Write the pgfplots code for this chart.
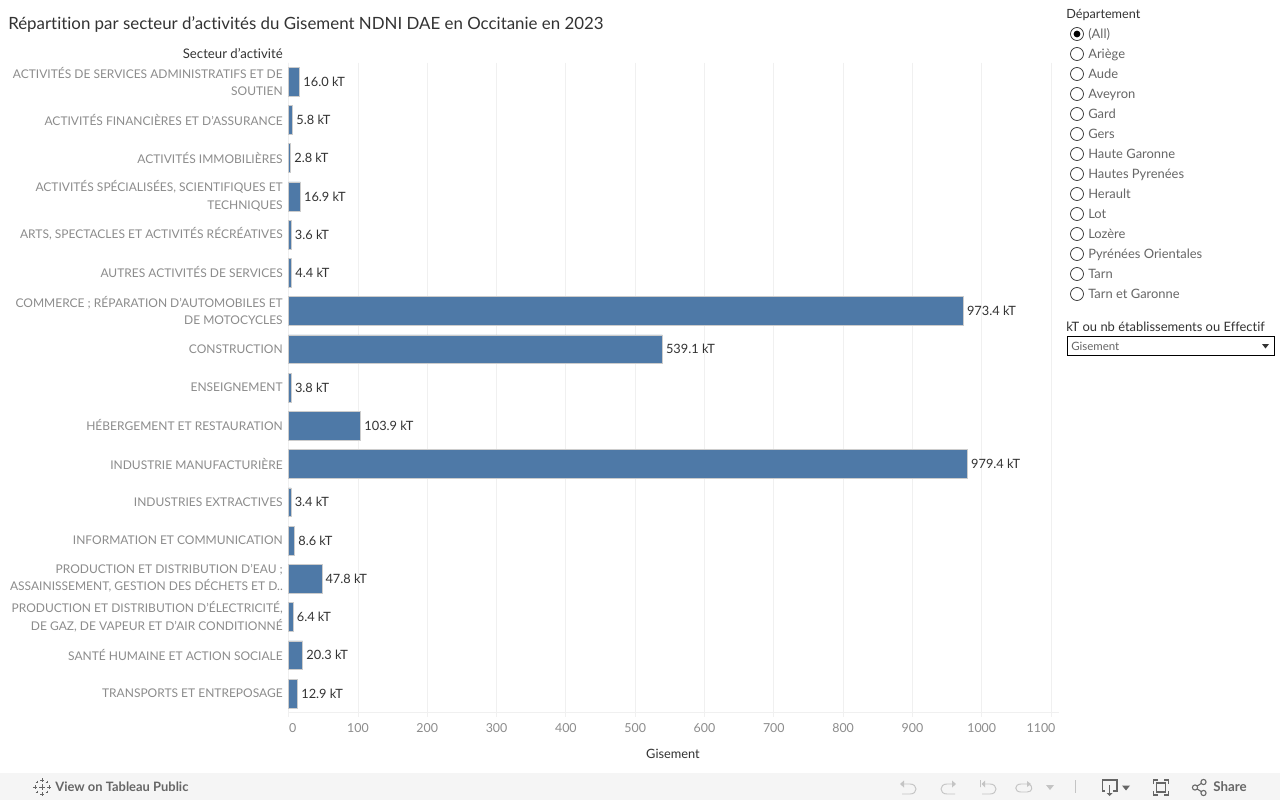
\documentclass[border=0pt]{standalone}
\usepackage{fontspec}
\setmainfont{Lato}[Ligatures=CommonOff]
\usepackage{pgfplots}
\usepackage{pgfplotstable}
\pgfplotsset{compat=1.18}

\definecolor{barblue}{HTML}{4E79A7}
\definecolor{gridgrey}{HTML}{F0F0F0}
\definecolor{catgrey}{HTML}{8C8C8C}
\definecolor{ink}{HTML}{333333}
\definecolor{uigrey}{HTML}{666666}
\definecolor{uilight}{HTML}{C4C4C4}

\pgfplotstableread{
rang valeur
0 16.0
1 5.8
2 2.8
3 16.9
4 3.6
5 4.4
6 973.4
7 539.1
8 3.8
9 103.9
10 979.4
11 3.4
12 8.6
13 47.8
14 6.4
15 20.3
16 12.9
}\gisement

\newcommand{\sz}[1]{\fontsize{#1}{#1}\selectfont}

\begin{document}
\begin{tikzpicture}
% 1 unit = 1 px of the reference, y going down
\begin{scope}[x=0.75pt,y=-0.75pt]
\path[use as bounding box] (0,0) rectangle (1280,800);
\fill[white] (0,0) rectangle (1280,800);

\node[anchor=base west,inner sep=0,text=ink,font=\sz{12.66}] at (8,29) {Répartition par secteur d’activités du Gisement NDNI DAE en Occitanie en 2023};
\node[anchor=base east,inner sep=0,text=ink,font=\sz{9.9}] at (283,58) {Secteur d’activité};
\node[anchor=base,inner sep=0,text=ink,font=\sz{9.6}] at (673,758) {Gisement};

% filtre departement
\node[anchor=base west,inner sep=0,text=ink,font=\sz{9.5}] at (1066,18) {Département};
\foreach \n [count=\i from 0] in {(All),Ariège,Aude,Aveyron,Gard,Gers,Haute Garonne,Hautes Pyrenées,Herault,Lot,Lozère,Pyrénées Orientales,Tarn,Tarn et Garonne}{
  \draw[ink,line width=0.55pt] (1077,34+20*\i) circle[radius=6.5];
  \node[anchor=base west,inner sep=0,text=uigrey,font=\sz{9.7}] at (1088,38+20*\i) {\n};
}
\fill[black] (1077,34) circle[radius=3.4];

% parametre
\node[anchor=base west,inner sep=0,text=ink,font=\sz{9.7}] at (1066,331) {kT ou nb établissements ou Effectif};
\draw[black,line width=0.6pt] (1067.5,336.5) rectangle (1274.5,355.5);
\node[anchor=base west,inner sep=0,text=uigrey,font=\sz{8.6}] at (1071,350) {Gisement};
\fill[black!80] (1262,344) -- (1269,344) -- (1265.5,348.5) -- cycle;

% barre du bas
\fill[black!4] (0,773) rectangle (1280,800);
\node[anchor=base west,inner sep=0,text=uigrey,font=\sz{9.7}\bfseries] at (55,791) {View on Tableau Public};
\foreach \a/\b/\s in {42/787/3,42/780/2,42/794/2,35/787/2,49/787/2,37/782/1.3,47/782/1.3,37/792/1.3,47/792/1.3}{
  \draw[uigrey,line width=0.6pt] (\a-\s,\b) -- (\a+\s,\b) (\a,\b-\s) -- (\a,\b+\s);
}
\begin{scope}[uilight,line width=0.7pt]
% annuler, retablir, revenir, actualiser
\draw (901,784) -- (910,784) .. controls (918,784) and (918,794) .. (910,794) -- (902,794);
\fill (904,780.5) -- (904,787.5) -- (900,784) -- cycle;
\draw (955,784) -- (947,784) .. controls (939,784) and (939,794) .. (947,794) -- (955,794);
\fill (952,780.5) -- (952,787.5) -- (956,784) -- cycle;
\draw (980.5,780) -- (980.5,787) (982,784) -- (990,784) .. controls (998,784) and (998,794) .. (990,794) -- (982,794);
\fill (985,780.5) -- (985,787.5) -- (981.5,784) -- cycle;
\draw (1027,784) -- (1021,784) .. controls (1014,784) and (1014,792) .. (1021,792) -- (1027,792) .. controls (1033,792) and (1033,786) .. (1029,784);
\fill (1027,781) -- (1027,787) -- (1031,784) -- cycle;
\fill (1046,785) -- (1054,785) -- (1050,790) -- cycle;
\draw (1075.5,780) -- (1075.5,793);
\end{scope}
\begin{scope}[uigrey,line width=0.8pt]
% telecharger, plein ecran, partager
\draw (1105,791) -- (1102.5,791) -- (1102.5,780) -- (1117,780) -- (1117,791) -- (1113,791);
\draw (1109.5,785) -- (1109.5,794);
\fill (1106.5,793) -- (1112.5,793) -- (1109.5,796) -- cycle;
\fill (1122,785.5) -- (1130,785.5) -- (1126,790.5) -- cycle;
\draw (1153.5,784) -- (1153.5,780) -- (1158,780) (1164,780) -- (1168.5,780) -- (1168.5,784)
      (1168.5,791) -- (1168.5,795) -- (1164,795) (1158,795) -- (1153.5,795) -- (1153.5,791);
\draw (1156.5,783) rectangle (1165.5,792);
\draw (1195,787.5) circle[radius=2.6] (1203.5,782) circle[radius=2.6] (1203.5,793) circle[radius=2.6];
\draw (1197.2,786) -- (1201.3,783.4) (1197.2,789) -- (1201.3,791.6);
\end{scope}
\node[anchor=base west,inner sep=0,text=uigrey,font=\sz{10}\bfseries] at (1213,791) {Share};
\end{scope}

\begin{axis}[
  at={(216.5pt,-534.4pt)}, anchor=south west,
  scale only axis, width=577.5pt, height=487.5pt,
  xbar, bar width=21.6pt, bar shift=0pt,
  xmin=0, xmax=1111, ymin=-0.5, ymax=16.5, y dir=reverse,
  axis x line=bottom, axis y line=left,
  axis line style={-,draw=gridgrey,line width=0.6pt},
  xtick={0,100,...,1100},
  xticklabels={\hspace*{6pt}0,100,200,300,400,500,600,700,800,900,1000,1100\hspace*{15pt}},
  xmajorgrids, grid style={draw=gridgrey,line width=0.6pt},
  major tick length=3pt, tick align=outside,
  xtick style={draw=gridgrey,line width=0.6pt},
  ytick style={draw=none},
  x tick label style={font=\sz{9.3},text=catgrey,inner sep=0pt,yshift=-5pt},
  ytick={0,...,16},
  yticklabels={
    {ACTIVITÉS DE SERVICES ADMINISTRATIFS ET DE\\SOUTIEN},
    {ACTIVITÉS FINANCIÈRES ET D’ASSURANCE},
    {ACTIVITÉS IMMOBILIÈRES},
    {ACTIVITÉS SPÉCIALISÉES, SCIENTIFIQUES ET\\TECHNIQUES},
    {ARTS, SPECTACLES ET ACTIVITÉS RÉCRÉATIVES},
    {AUTRES ACTIVITÉS DE SERVICES},
    {COMMERCE ; RÉPARATION D’AUTOMOBILES ET\\DE MOTOCYCLES},
    {CONSTRUCTION},
    {ENSEIGNEMENT},
    {HÉBERGEMENT ET RESTAURATION},
    {INDUSTRIE MANUFACTURIÈRE},
    {INDUSTRIES EXTRACTIVES},
    {INFORMATION ET COMMUNICATION},
    {PRODUCTION ET DISTRIBUTION D’EAU ;\\ASSAINISSEMENT, GESTION DES DÉCHETS ET D..},
    {PRODUCTION ET DISTRIBUTION D’ÉLECTRICITÉ,\\DE GAZ, DE VAPEUR ET D’AIR CONDITIONNÉ},
    {SANTÉ HUMAINE ET ACTION SOCIALE},
    {TRANSPORTS ET ENTREPOSAGE}},
  y tick label style={font=\fontsize{9.0}{13.1}\selectfont,text=catgrey,align=right,inner sep=0pt,xshift=-1.3pt,yshift=0.3pt},
  /pgf/number format/assume math mode=true,
  nodes near coords={\pgfmathprintnumber[fixed,fixed zerofill,precision=1,assume math mode=true]{\pgfplotspointmeta} kT},
  nodes near coords style={font=\sz{9.6},text=ink,inner sep=0pt,xshift=2.6pt,anchor=west},
  point meta=x,
  clip=false,
]
\addplot[fill=barblue,draw=black!20,line width=0.4pt] table[x=valeur,y=rang] {\gisement};
\end{axis}
\end{tikzpicture}
\end{document}
